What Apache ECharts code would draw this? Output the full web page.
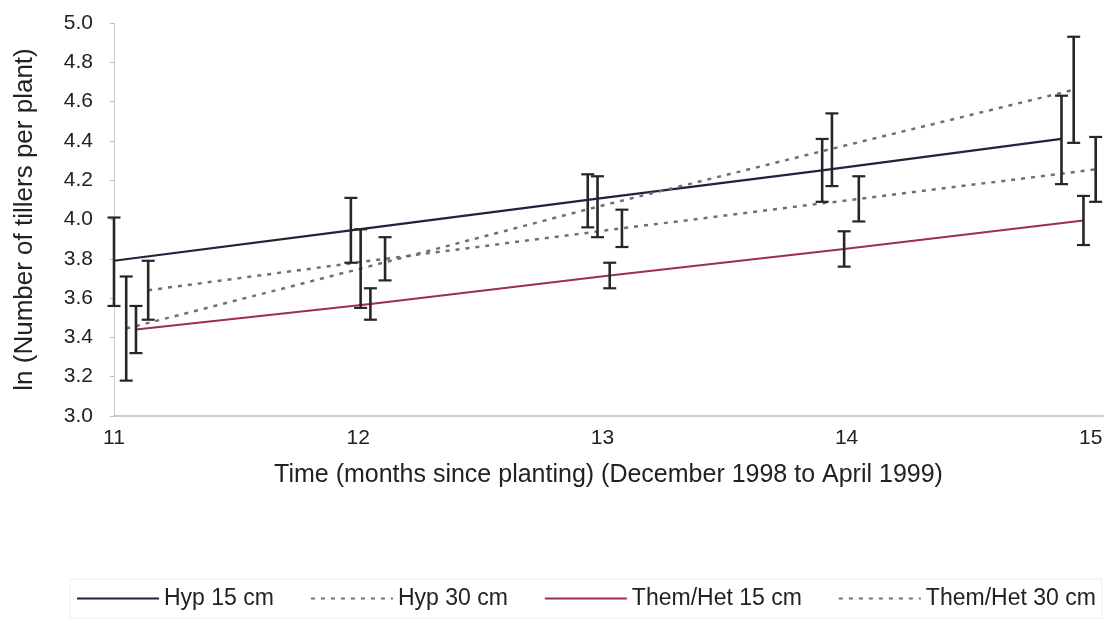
<!DOCTYPE html>
<html><head><meta charset="utf-8">
<script src="https://cdn.jsdelivr.net/npm/echarts@6/dist/echarts.min.js"></script>
<style>html,body{margin:0;padding:0;background:#fff}#c{width:1115px;height:624px}</style>
</head><body><div id="c"></div>
<script>
// ---- data ----
const seriesNames = ['Hyp 15 cm', 'Hyp 30 cm', 'Them/Het 15 cm', 'Them/Het 30 cm'];
const xTickLabels = ['11', '12', '13', '14', '15'];

// x = time (months since planting), mean = ln(tillers per plant), lo/hi = error bar ends
const hyp15X    = [11.00, 11.97, 12.94, 13.90, 14.88];
const hyp15Mean = [3.79, 3.945, 4.10, 4.25, 4.41];
const hyp15Lo   = [3.56, 3.78, 3.96, 4.09, 4.18];
const hyp15Hi   = [4.01, 4.11, 4.23, 4.41, 4.63];

const hyp30X    = [11.05, 12.01, 12.98, 13.94, 14.93];
const hyp30Mean = [3.445, 3.75, 4.065, 4.36, 4.66];
const hyp30Lo   = [3.18, 3.55, 3.91, 4.17, 4.39];
const hyp30Hi   = [3.71, 3.95, 4.22, 4.54, 4.93];

const th15X     = [11.09, 12.05, 13.03, 13.99, 14.97];
const th15Mean  = [3.44, 3.57, 3.715, 3.85, 3.995];
const th15Lo    = [3.32, 3.49, 3.65, 3.76, 3.87];
const th15Hi    = [3.56, 3.65, 3.78, 3.94, 4.12];

const th30X     = [11.14, 12.11, 13.08, 14.05, 15.02];
const th30Mean  = [3.64, 3.80, 3.955, 4.105, 4.255];
const th30Lo    = [3.49, 3.69, 3.86, 3.99, 4.09];
const th30Hi    = [3.79, 3.91, 4.05, 4.22, 4.42];

// ---- build ----
const FONT = 'Liberation Sans, Arial, sans-serif';
const groups = [
  {name: seriesNames[0], x: hyp15X, m: hyp15Mean, lo: hyp15Lo, hi: hyp15Hi,
   line: {color: '#22223c', width: 2.2, type: 'solid'}},
  {name: seriesNames[1], x: hyp30X, m: hyp30Mean, lo: hyp30Lo, hi: hyp30Hi,
   line: {color: '#707070', width: 2.5, type: [4, 6]}},
  {name: seriesNames[2], x: th15X, m: th15Mean, lo: th15Lo, hi: th15Hi,
   line: {color: '#9c2f50', width: 2, type: 'solid'}},
  {name: seriesNames[3], x: th30X, m: th30Mean, lo: th30Lo, hi: th30Hi,
   line: {color: '#707070', width: 2.5, type: [4, 6]}}
];

function errRender(params, api) {
  const x = api.value(0), lo = api.value(1), hi = api.value(2);
  const t = api.coord([x, hi]), b = api.coord([x, lo]);
  const w = 6.5;
  const vs = {stroke: '#262626', lineWidth: 2.6};
  const cs = {stroke: '#262626', lineWidth: 2.2};
  return {type: 'group', children: [
    {type: 'line', shape: {x1: t[0], y1: t[1], x2: b[0], y2: b[1]}, style: vs},
    {type: 'line', shape: {x1: t[0] - w, y1: t[1], x2: t[0] + w, y2: t[1]}, style: cs},
    {type: 'line', shape: {x1: b[0] - w, y1: b[1], x2: b[0] + w, y2: b[1]}, style: cs}
  ]};
}

const series = [];
groups.forEach(g => {
  series.push({
    name: g.name, type: 'line', symbol: 'none', z: 2,
    data: g.x.map((v, i) => [v, g.m[i]]),
    lineStyle: {color: g.line.color, width: g.line.width, type: g.line.type},
    itemStyle: {color: g.line.color}
  });
  series.push({
    name: g.name + ' error', type: 'custom', z: 3,
    renderItem: errRender,
    encode: {x: 0, y: [1, 2]},
    data: g.x.map((v, i) => [v, g.lo[i], g.hi[i]])
  });
});

const chart = echarts.init(document.getElementById('c'), null, {renderer: 'canvas'});
chart.setOption({
  animation: false,
  backgroundColor: '#ffffff',
  grid: {left: 114, right: 12, top: 23, bottom: 208},
  xAxis: {
    type: 'value', min: 11, max: 15.05, interval: 1,
    name: 'Time (months since planting) (December 1998 to April 1999)',
    nameLocation: 'middle', nameGap: 47,
    nameTextStyle: {fontFamily: FONT, fontSize: 25, color: '#222'},
    axisLine: {show: true, lineStyle: {color: '#bdbdbd', width: 1.5}},
    axisTick: {show: false},
    splitLine: {show: false},
    axisLabel: {fontFamily: FONT, fontSize: 21, color: '#222', margin: 12,
      formatter: v => { const i = xTickLabels.indexOf(String(v)); return i >= 0 ? xTickLabels[i] : ''; }}
  },
  yAxis: {
    type: 'value', min: 3, max: 5, interval: 0.2,
    name: 'ln (Number of tillers per plant)',
    nameLocation: 'middle', nameGap: 76,
    nameTextStyle: {fontFamily: FONT, fontSize: 26, color: '#222'},
    axisLine: {show: true, lineStyle: {color: '#cfcfcf', width: 1}},
    axisTick: {show: true, inside: false, length: 4, lineStyle: {color: '#bbbbbb'}},
    splitLine: {show: false},
    axisLabel: {fontFamily: FONT, fontSize: 21, color: '#222', margin: 21,
      formatter: v => v.toFixed(1)}
  },
  legend: {
    data: seriesNames,
    left: 70, top: 579,
    itemWidth: 82, itemHeight: 10, itemGap: 36,
    itemStyle: {opacity: 0},
    borderColor: '#ececec', borderWidth: 1, padding: [8, 6],
    textStyle: {fontFamily: FONT, fontSize: 23, color: '#222'}
  },
  series: series
});
</script>
</body></html>
